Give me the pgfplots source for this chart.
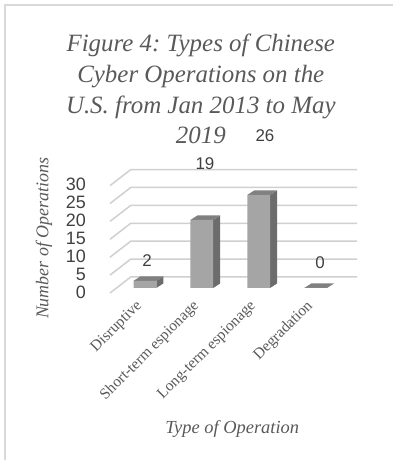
\documentclass[border=0pt]{standalone}
\usepackage{fontspec}
\setmainfont{Liberation Serif}
\newfontfamily\sansf{Liberation Sans}
\usepackage{pgfplots}
\pgfplotsset{compat=1.18}
\usepackage{pgfplotstable}
\frenchspacing
\definecolor{txt}{HTML}{595959}
\definecolor{num}{HTML}{404040}
\definecolor{gridc}{HTML}{D0D0D0}
\definecolor{frontc}{HTML}{A5A5A5}
\definecolor{sidec}{HTML}{6C6C6C}
\definecolor{topc}{HTML}{808080}
\definecolor{framec}{HTML}{D9D9D9}
\pgfplotstableread{
x label value
0 Disruptive 2
1 {Short-term espionage} 19
2 {Long-term espionage} 26
3 Degradation 0
}\datatable
\begin{document}
\begin{tikzpicture}[x=1bp,y=1bp]
% pixel (px,py) -> (px-144.9, 288-py)
\path[use as bounding box] (-144.9,288) rectangle (248.1,-172);
\draw[framec, line width=1.5bp] (-139.9,-172) -- (-139.9,283) -- (248.1,283);
\begin{axis}[
  anchor=origin, at={(0,0)},
  x=56.9bp, y=3.58bp,
  xmin=-0.613, xmax=3.73, ymin=-5, ymax=35,
  clip=false,
  axis line style={draw=none},
  major tick length=0pt,
  /pgf/number format/assume math mode=true,
  ytick={0,5,...,30},
  yticklabel style={font=\sansf\fontsize{18}{18}\selectfont, text=num, anchor=east, inner sep=0pt, xshift=-24bp, yshift=-4bp},
  xtick={0,1,2,3},
  xticklabels={Disruptive,Short-term espionage,Long-term espionage,Degradation},
  xticklabel style={font=\fontsize{15.5}{15.5}\selectfont, text=txt, xshift=-5bp, yshift=2bp, rotate=45, anchor=east, inner sep=0pt},
]
% 3D grid: front edge -> back wall -> right
\draw[gridc, line width=1.5bp] (axis cs:-0.613,-1.397) -- (axis cs:-0.249,3.073) -- (axis cs:3.728,3.073);
\draw[gridc, line width=1.5bp] (axis cs:-0.613,3.603) -- (axis cs:-0.249,8.073) -- (axis cs:3.728,8.073);
\draw[gridc, line width=1.5bp] (axis cs:-0.613,8.603) -- (axis cs:-0.249,13.073) -- (axis cs:3.728,13.073);
\draw[gridc, line width=1.5bp] (axis cs:-0.613,13.603) -- (axis cs:-0.249,18.073) -- (axis cs:3.728,18.073);
\draw[gridc, line width=1.5bp] (axis cs:-0.613,18.603) -- (axis cs:-0.249,23.073) -- (axis cs:3.728,23.073);
\draw[gridc, line width=1.5bp] (axis cs:-0.613,23.603) -- (axis cs:-0.249,28.073) -- (axis cs:3.728,28.073);
\draw[gridc, line width=1.5bp] (axis cs:-0.613,28.603) -- (axis cs:-0.249,33.073) -- (axis cs:3.728,33.073);
% side faces
\addplot[fill=sidec, draw=none] coordinates {(0.2,0) (0.323,1.26) (0.323,3.26) (0.2,2)} --cycle;
\addplot[fill=sidec, draw=none] coordinates {(1.2,0) (1.323,1.26) (1.323,20.26) (1.2,19)} --cycle;
\addplot[fill=sidec, draw=none] coordinates {(2.2,0) (2.323,1.26) (2.323,27.26) (2.2,26)} --cycle;
% top faces
\addplot[fill=topc, draw=none] coordinates {(-0.2,2) (0.2,2) (0.323,3.26) (-0.077,3.26)} --cycle;
\addplot[fill=topc, draw=none] coordinates {(0.8,19) (1.2,19) (1.323,20.26) (0.923,20.26)} --cycle;
\addplot[fill=topc, draw=none] coordinates {(1.8,26) (2.2,26) (2.323,27.26) (1.923,27.26)} --cycle;
\addplot[fill=topc, draw=none] coordinates {(2.8,0) (3.2,0) (3.323,1.26) (2.923,1.26)} --cycle;
% front faces
\addplot[ybar, bar width=22.8bp, fill=frontc, draw=none] table[x=x, y=value] {\datatable};
% data labels
\node[font=\sansf\fontsize{17}{17}\selectfont, text=num] at (axis cs:0.04,7.6) {2};
\node[font=\sansf\fontsize{17}{17}\selectfont, text=num] at (axis cs:1.056,34.6) {19};
\node[font=\sansf\fontsize{17}{17}\selectfont, text=num] at (axis cs:2.11,42.5) {26};
\node[font=\sansf\fontsize{17}{17}\selectfont, text=num] at (axis cs:3.08,7.1) {0};
\end{axis}
\node[anchor=north, align=center, inner sep=0pt, text=txt, font=\fontsize{25}{30.8}\selectfont\itshape] at (55.9,254) {Figure 4: Types of Chinese\\Cyber Operations on the\\U.S. from Jan 2013 to May\\2019};
\node[anchor=base, rotate=90, inner sep=0pt, text=txt, font=\fontsize{18}{18}\selectfont\itshape] at (-96.6,49.7) {Number of Operations};
\node[anchor=base, inner sep=0pt, text=txt, font=\fontsize{18.5}{18.5}\selectfont\itshape] at (87.3,-145.3) {Type of Operation};
\end{tikzpicture}
\end{document}
